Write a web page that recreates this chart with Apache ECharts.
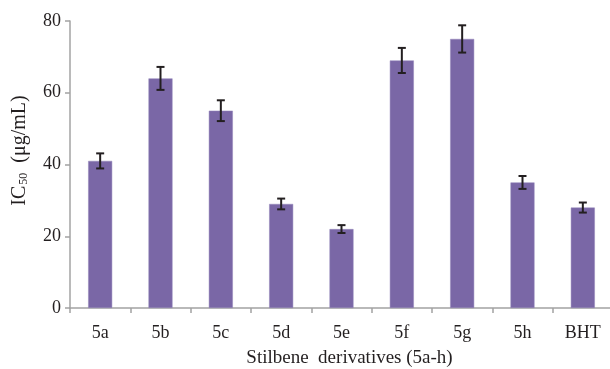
<!DOCTYPE html>
<html><head><meta charset="utf-8">
<script src="https://cdn.jsdelivr.net/npm/echarts@6/dist/echarts.min.js"></script>
<style>html,body{margin:0;padding:0;background:#fff}#c{width:610px;height:369px}</style>
</head><body><div id="c"></div>
<script>
var categories = ['5a','5b','5c','5d','5e','5f','5g','5h','BHT'];
var ic50 = [41, 64, 55, 29, 22, 69, 75, 35, 28];
var errs = [2.1, 3.2, 2.9, 1.5, 1.1, 3.5, 3.8, 1.8, 1.4];
var yTicks = [0, 20, 40, 60, 80];

var font = '"Liberation Serif", "DejaVu Serif", serif';
var textColor = '#231f20';
var axisColor = '#a3a3a3';

var errData = categories.map(function (c, i) { return [i, ic50[i], errs[i]]; });

var chart = echarts.init(document.getElementById('c'));
chart.setOption({
  animation: false,
  grid: { left: 70, top: 21, width: 543, height: 287, containLabel: false, outerBoundsMode: 'none' },
  xAxis: {
    type: 'category',
    data: categories,
    boundaryGap: true,
    axisLine: { show: true, lineStyle: { color: axisColor, width: 1.5 } },
    axisTick: { show: true, length: 5, lineStyle: { color: axisColor, width: 1.5 } },
    axisLabel: { fontFamily: font, fontSize: 18, color: textColor, margin: 16 },
    name: 'Stilbene  derivatives (5a-h)',
    nameLocation: 'middle',
    nameGap: 41,
    nameTextStyle: { fontFamily: font, fontSize: 19, color: textColor, padding: [0, 0, 0, 16] }
  },
  yAxis: {
    type: 'value',
    min: yTicks[0], max: yTicks[yTicks.length - 1], interval: 20,
    splitLine: { show: false },
    axisLine: { show: true, lineStyle: { color: axisColor, width: 1.5 } },
    axisTick: { show: true, length: 5, lineStyle: { color: axisColor, width: 1.5 } },
    axisLabel: { fontFamily: font, fontSize: 18, color: textColor, margin: 9 },
    name: '{a|IC}{s|50}{a|  (μg/mL)}',
    nameLocation: 'middle',
    nameRotate: 90,
    nameGap: 40,
    nameTextStyle: {
      fontFamily: font, fontSize: 20, color: textColor, padding: [0, 0, 0, 28],
      rich: {
        a: { fontFamily: font, fontSize: 20, color: textColor },
        s: { fontFamily: font, fontSize: 12, color: textColor, verticalAlign: 'bottom', padding: [6, 0, 0, 1] }
      }
    }
  },
  series: [
    {
      type: 'bar',
      data: ic50,
      barWidth: 24,
      itemStyle: { color: '#7a67a6', borderColor: '#9486bb', borderWidth: 0.5 }
    },
    {
      type: 'custom',
      data: errData,
      z: 10,
      renderItem: function (params, api) {
        var i = api.value(0), v = api.value(1), e = api.value(2);
        var hi = api.coord([i, v + e]);
        var lo = api.coord([i, v - e]);
        var hw = 4;
        var st = { stroke: '#231f20', lineWidth: 2 };
        return {
          type: 'group',
          children: [
            { type: 'line', shape: { x1: hi[0], y1: hi[1], x2: lo[0], y2: lo[1] }, style: st },
            { type: 'line', shape: { x1: hi[0] - hw, y1: hi[1], x2: hi[0] + hw, y2: hi[1] }, style: st },
            { type: 'line', shape: { x1: lo[0] - hw, y1: lo[1], x2: lo[0] + hw, y2: lo[1] }, style: st }
          ]
        };
      }
    }
  ]
});
</script></body></html>
